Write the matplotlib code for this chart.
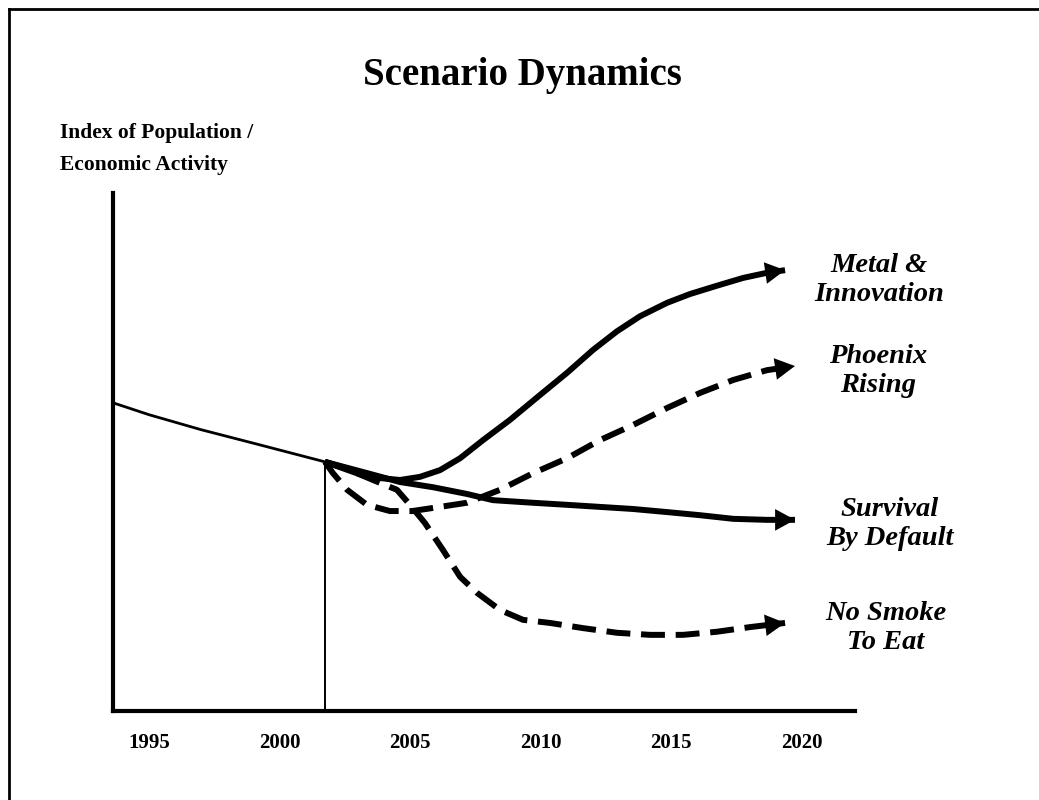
import matplotlib as mpl
mpl.use("Agg")
import matplotlib.pyplot as plt
from matplotlib.lines import Line2D

plt.rcParams['font.family'] = ['Liberation Serif', 'DejaVu Serif']

# history up to the branching point
hist_year = [1993.62, 1995.0, 1997.0, 1999.0, 2001.74]
hist_val = [59.5, 57.2, 54.3, 51.7, 48.1]

# scenario paths (index, 0..100)
metal_year = [2001.74, 2003.35, 2004.62, 2005.38, 2006.15, 2006.92, 2007.80,
              2008.83, 2009.98, 2011.02, 2012.01, 2012.93, 2013.81, 2014.85,
              2015.73, 2016.76, 2017.76, 2018.68, 2019.37]
metal_val = [48.1, 45.2, 44.6, 45.2, 46.5, 48.8, 52.3, 56.2, 61.0, 65.3, 69.7,
             73.3, 76.2, 78.8, 80.5, 82.1, 83.6, 84.6, 85.1]

phoenix_year = [2001.74, 2002.05, 2002.59, 2003.35, 2004.23, 2005.08, 2005.88,
                2007.18, 2008.45, 2009.71, 2011.02, 2012.28, 2013.54, 2014.85,
                2016.11, 2017.38, 2018.68, 2019.75]
phoenix_val = [48.1, 45.9, 42.7, 39.8, 38.6, 38.6, 39.2, 40.2, 42.7, 45.9,
               48.8, 52.3, 55.2, 58.5, 61.4, 63.9, 65.8, 66.6]

survival_year = [2001.74, 2003.08, 2004.62, 2005.88, 2007.18, 2008.18, 2009.71,
                 2011.02, 2012.28, 2013.54, 2014.85, 2016.11, 2017.38, 2018.68,
                 2019.75]
survival_val = [48.1, 46.3, 44.2, 43.2, 41.9, 40.7, 40.2, 39.8, 39.4, 39.0,
                38.4, 37.8, 37.1, 36.9, 36.9]

nosmoke_year = [2001.74, 2002.51, 2003.58, 2004.50, 2005.00, 2005.57, 2006.26,
                2006.92, 2007.57, 2008.45, 2009.33, 2010.36, 2011.63, 2012.93,
                2014.20, 2015.46, 2016.76, 2018.03, 2019.37]
nosmoke_val = [48.1, 46.9, 44.6, 42.7, 39.8, 36.3, 31.1, 25.9, 22.8, 19.5,
               17.6, 17.0, 16.0, 15.1, 14.7, 14.7, 15.3, 16.2, 17.0]

split_year = 2001.74
split_val = 48.1

tick_years = [1995, 2000, 2005, 2010, 2015, 2020]
x_range = (1993.62, 2022.05)
y_range = (0, 100)

labels = ['Metal &\nInnovation', 'Phoenix\nRising', 'Survival\nBy Default',
          'No Smoke\nTo Eat']
label_pos = [(879, 280), (878, 371), (890, 524), (886, 628)]  # pixels

W, H = 1039, 800
fig = plt.figure(figsize=(W / 100, H / 100), dpi=100)
ax = fig.add_axes([113 / W, (H - 711) / H, (855 - 113) / W, (711 - 193) / H])

# historical trend and the "today" marker
ax.plot(hist_year, hist_val, color='black', lw=2.0, solid_capstyle='butt')
ax.plot([split_year, split_year], [0, split_val], color='black', lw=1.4)

dash = (0, (4, 1.8))
series = [
    (metal_year, metal_val, '-'),
    (phoenix_year, phoenix_val, dash),
    (survival_year, survival_val, '-'),
    (nosmoke_year, nosmoke_val, dash),
]
for xs, ys, ls in series:
    ax.plot(xs, ys, color='black', lw=4.3, ls=ls, solid_joinstyle='round',
            solid_capstyle='butt', dash_capstyle='butt')
    # arrow head at the end of each path
    xt = xs[-2] + 0.3 * (xs[-1] - xs[-2])
    yt = ys[-2] + 0.3 * (ys[-1] - ys[-2])
    ax.annotate('', xy=(xs[-1], ys[-1]), xytext=(xt, yt),
                arrowprops=dict(arrowstyle='-|>,head_length=1.1,head_width=0.6',
                                mutation_scale=13, color='black', lw=0,
                                shrinkA=0, shrinkB=0))

ax.set_xlim(*x_range)
ax.set_ylim(*y_range)
for s in ['top', 'right']:
    ax.spines[s].set_visible(False)
for s in ['left', 'bottom']:
    ax.spines[s].set_linewidth(3)
ax.set_yticks([])
ax.set_xticks(tick_years)
ax.set_xticklabels([str(t) for t in tick_years], fontsize=15, fontweight='bold')
ax.tick_params(axis='x', length=0, pad=16)

# titles
fig.text(522 / W, 1 - 75 / H, 'Scenario Dynamics', ha='center', va='center',
         fontsize=28, fontweight='bold')
fig.text(60 / W, 1 - 133 / H, 'Index of Population /', ha='left', va='center',
         fontsize=15.5, fontweight='bold')
fig.text(60 / W, 1 - 165 / H, 'Economic Activity', ha='left', va='center',
         fontsize=15.5, fontweight='bold')

for txt, (px, py) in zip(labels, label_pos):
    fig.text(px / W, 1 - py / H, txt, ha='center', va='center', fontsize=20.5,
             fontweight='bold', fontstyle='italic', linespacing=1.2)

# slide frame (top and left edges only)
fig.add_artist(Line2D([9 / W, 1], [1 - 9 / H, 1 - 9 / H], color='black', lw=2))
fig.add_artist(Line2D([9 / W, 9 / W], [0, 1 - 9 / H], color='black', lw=2))

fig.savefig('out.png', dpi=100)
plt.close(fig)
